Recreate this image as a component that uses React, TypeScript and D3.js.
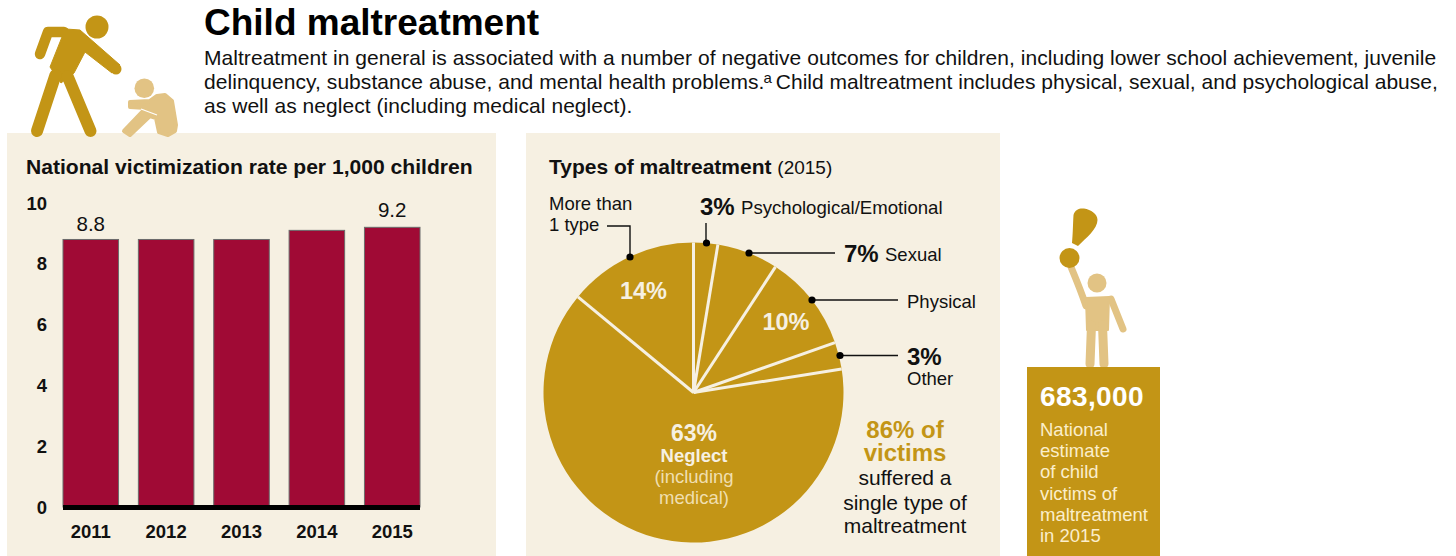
import React from "react";
import * as d3 from "d3";

const years = ["2011", "2012", "2013", "2014", "2015"];
const rates = [8.8, 8.8, 8.8, 9.1, 9.2];
const rateLabels = ["8.8", "", "", "", "9.2"];
const yTicks = [0, 2, 4, 6, 8, 10];
const sliceNames = ["Psychological/Emotional", "Sexual", "Physical", "Other", "Neglect", "More than 1 type"];
const sliceShares = [2.6, 6.6, 10.4, 2.9, 63.5, 14.0];

const CREAM = "#f6f0e2";
const GOLD = "#c39516";
const LIGHT = "#e2c384";
const CRIMSON = "#a00a35";
const INK = "#111111";
const FONT = "'Liberation Sans', Arial, sans-serif";

const x = d3.scaleBand<string>().domain(years).range([63, 420]).paddingInner(0.263).paddingOuter(0);
const y = d3.scaleLinear().domain([0, 10]).range([507, 203]);

const cx = 693.5;
const cy = 392.5;
const R = 150;
const pie = d3.pie<number>().sort(null).value((d) => d);
const arcs = pie(sliceShares);
const arc = d3.arc<d3.PieArcDatum<number>>().innerRadius(0).outerRadius(R);

function T({ x, y, s, w, fill = INK, anchor, children, ls }: any) {
  return (
    <text x={x} y={y} fontSize={s} fontWeight={w} fill={fill} textAnchor={anchor} letterSpacing={ls}>
      {children}
    </text>
  );
}

function Leader({ d, dot }: { d: string; dot: [number, number] }) {
  return (
    <g>
      <path d={d} fill="none" stroke={INK} strokeWidth={1.4} />
      <circle cx={dot[0]} cy={dot[1]} r={3.6} fill="#000" />
    </g>
  );
}

export default function App() {
  return (
    <svg
      width={1456}
      height={556}
      viewBox="0 0 1456 556"
      fontFamily={FONT}
      style={{ position: "absolute", left: 0, top: 0, background: "#fff" }}
    >
      {/* panels */}
      <rect x={7} y={133} width={489} height={423} fill={CREAM} />
      <rect x={526} y={133} width={474} height={423} fill={CREAM} />

      {/* adult figure */}
      <g fill={GOLD} stroke={GOLD} strokeLinecap="round" strokeLinejoin="round">
        <circle cx={97} cy={27} r={11.5} stroke="none" />
        <path d="M40 54 L48 32 L64 32" fill="none" strokeWidth={10.5} />
        <path d="M52 28 L80 30 L120 65 L112 73 L85 52 L74 73 L61 83 L50 67 L62 37 Z" strokeWidth={1} />
        <circle cx={116} cy={69} r={5.5} stroke="none" />
        <path d="M55.5 75 L37 131" fill="none" strokeWidth={12} />
        <path d="M67.5 76 L90.5 131" fill="none" strokeWidth={12} />
      </g>
      {/* child figure */}
      <g fill={LIGHT}>
        <circle cx={144.3} cy={88.3} r={9.8} />
        <path
          d="M130 102 L150 101 L157 96 L165 95 L172 101 L176 125 L175 131 L168 135 L159 132 L156 118 L150 116 L130 135 L124 131 L146 108 L130 107 Z"
          stroke={LIGHT}
          strokeWidth={4}
          strokeLinejoin="round"
        />
        <path d="M141 109 L157 115" stroke="#fff" strokeWidth={1.2} fill="none" />
      </g>

      {/* heading */}
      <T x={204} y={35} s={37} w="700" fill="#000">Child maltreatment</T>
      <T x={204} y={64.5} s={21} ls={0.05}>Maltreatment in general is associated with a number of negative outcomes for children, including lower school achievement, juvenile</T>
      <text x={204} y={88.5} fontSize={21} fill={INK} letterSpacing={0.05}>
        delinquency, substance abuse, and mental health problems.
        <tspan fontSize={15} dy={-6} dx={-1}>a</tspan>
        <tspan dy={6} dx={-2} letterSpacing={0.02}> Child maltreatment includes physical, sexual, and psychological abuse,</tspan>
      </text>
      <T x={204} y={112.5} s={21} ls={0.05}>as well as neglect (including medical neglect).</T>

      {/* bar chart */}
      <T x={26} y={173.5} s={21.1} w="700">National victimization rate per 1,000 children</T>
      {yTicks.map((t) => (
        <T key={t} x={47} y={y(t) + 6.5} s={18.5} w="700" anchor="end">{t}</T>
      ))}
      {years.map((yr, i) => (
        <g key={yr}>
          <rect
            x={x(yr)!}
            y={y(rates[i])}
            width={x.bandwidth()}
            height={y(0) - y(rates[i])}
            fill={CRIMSON}
            stroke="#6b6b6b"
            strokeWidth={1}
          />
          {rateLabels[i] && (
            <T x={x(yr)! + x.bandwidth() / 2} y={y(rates[i]) - (i === 4 ? 10 : 8)} s={20.5} anchor="middle">{rateLabels[i]}</T>
          )}
          <T x={x(yr)! + x.bandwidth() / 2} y={538} s={18.5} w="700" anchor="middle">{yr}</T>
        </g>
      ))}
      <rect x={63} y={505} width={357} height={5} fill="#000" />

      {/* pie */}
      <T x={549} y={173.5} s={21} w="700">
        Types of maltreatment <tspan fontSize={19} fontWeight="400">(2015)</tspan>
      </T>
      <g transform={`translate(${cx},${cy})`}>
        {arcs.map((a, i) => (
          <path key={sliceNames[i]} d={arc(a)!} fill={GOLD} />
        ))}
        {arcs.map((a, i) => (
          <line
            key={sliceNames[i]}
            x1={0}
            y1={0}
            x2={R * Math.sin(a.startAngle)}
            y2={-R * Math.cos(a.startAngle)}
            stroke={CREAM}
            strokeWidth={3}
          />
        ))}
      </g>

      <T x={643.5} y={299} s={23.5} w="700" fill={CREAM} anchor="middle">14%</T>
      <T x={786} y={330} s={23.5} w="700" fill={CREAM} anchor="middle">10%</T>
      <T x={694} y={441} s={23} w="700" fill={CREAM} anchor="middle">63%</T>
      <T x={694} y={462} s={18.5} w="700" fill={CREAM} anchor="middle">Neglect</T>
      <T x={694} y={483} s={18.5} fill="#f0dfb0" anchor="middle">(including</T>
      <T x={694} y={504} s={18.5} fill="#f0dfb0" anchor="middle">medical)</T>

      <Leader d="M607 226 L630 226 L630 256" dot={[630, 257]} />
      <Leader d="M706 223 L706 243" dot={[706.5, 243]} />
      <Leader d="M749 253 L835 253" dot={[749, 253]} />
      <Leader d="M812 300 L898 300" dot={[812, 300]} />
      <Leader d="M840 355.5 L898 355.5" dot={[840, 355.5]} />

      <T x={549} y={210} s={18.5}>More than</T>
      <T x={549} y={231} s={18.5}>1 type</T>
      <T x={700} y={215} s={24} w="700">3%</T>
      <T x={741} y={214} s={18.6}>Psychological/Emotional</T>
      <T x={844} y={262} s={24} w="700">7%</T>
      <T x={885} y={261} s={18.5}>Sexual</T>
      <T x={907} y={308} s={18.5}>Physical</T>
      <T x={907} y={365} s={24} w="700">3%</T>
      <T x={907} y={385} s={18.5}>Other</T>

      <T x={905} y={438} s={24} w="700" fill={GOLD} anchor="middle">86% of</T>
      <T x={905} y={461} s={24} w="700" fill={GOLD} anchor="middle">victims</T>
      <T x={905} y={485} s={21} anchor="middle">suffered a</T>
      <T x={905} y={510} s={21} anchor="middle">single type of</T>
      <T x={905} y={533} s={21} anchor="middle">maltreatment</T>

      {/* person */}
      <g fill={LIGHT} stroke={LIGHT} strokeLinecap="round" strokeLinejoin="round">
        <circle cx={1097} cy={283} r={9.5} stroke="none" />
        <path d="M1071 267 Q1081 291 1086 306" fill="none" strokeWidth={7} />
        <path d="M1111 299 L1123 329" fill="none" strokeWidth={7} />
        <path d="M1086 298 L1109 297 L1108 330 L1087 330 Z" strokeWidth={2} />
        <path d="M1091.5 325 L1090 364" fill="none" strokeWidth={9} />
        <path d="M1102.5 325 L1104 364" fill="none" strokeWidth={9} />
      </g>
      <circle cx={1069.5} cy={258} r={10} fill={GOLD} />
      <path
        d="M1072 243 C1073 232 1073 222 1073.5 215 C1075 209 1080 208 1084 208.5 C1091 209.5 1097.5 214 1097.5 220 C1097.5 229 1086 238 1078 246 Z"
        fill={GOLD}
      />

      {/* box */}
      <rect x={1027} y={367} width={133} height={189} fill={GOLD} />
      <T x={1040} y={406} s={28} w="700" fill="#fff" ls={0.4}>683,000</T>
      {["National", "estimate", "of child", "victims of", "maltreatment", "in 2015"].map((l, i) => (
        <T key={l} x={1040} y={436 + i * 21.2} s={18.5} fill="#fbeecb">{l}</T>
      ))}
    </svg>
  );
}
